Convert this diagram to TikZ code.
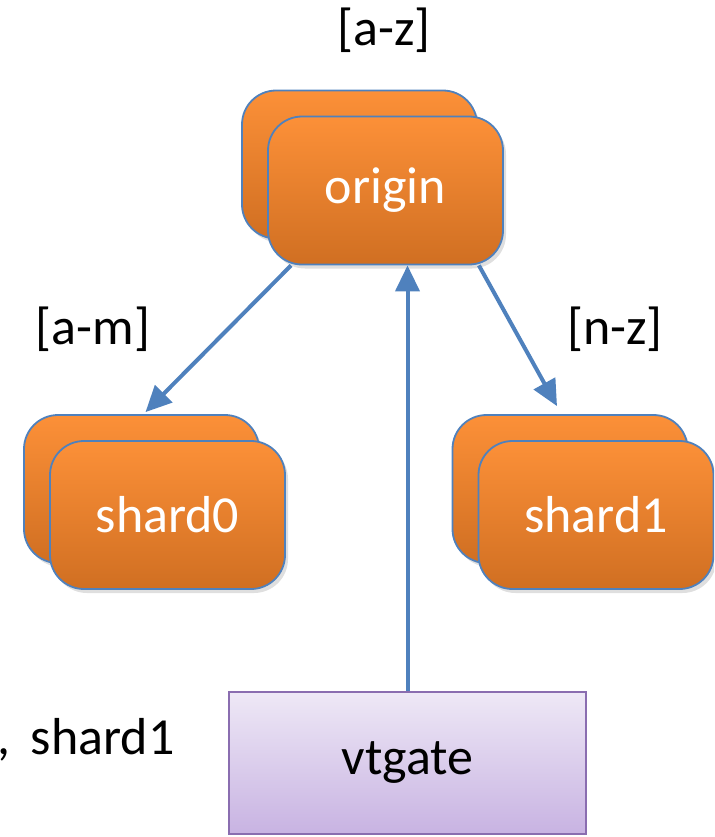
\documentclass[tikz,border=0pt]{standalone}
\usepackage{fontspec}
\setmainfont{Carlito}
\usepackage{xcolor}
\usetikzlibrary{shadows}
\usetikzlibrary{arrows.meta}
\definecolor{linkblue}{HTML}{4F81BD}
\definecolor{orangetop}{HTML}{FC9038}
\definecolor{orangebot}{HTML}{D06F22}
\definecolor{lilactop}{HTML}{EEE8F6}
\definecolor{lilacbot}{HTML}{C8B3E2}
\definecolor{lilacedge}{HTML}{8A6DB0}
\tikzset{tablet/.style={draw=linkblue, line width=0.9pt, rounded corners=17pt,
   top color=orangetop, bottom color=orangebot, text=white,
   minimum width=117.5pt, minimum height=74pt, inner sep=0pt,
   font=\fontsize{26}{30}\selectfont,
   drop shadow={opacity=0.25, shadow xshift=1.5pt, shadow yshift=-2pt}},
 gatebox/.style={draw=lilacedge, line width=0.9pt,
   top color=lilactop, bottom color=lilacbot,
   minimum width=178.5pt, minimum height=71pt, inner sep=0pt,
   font=\fontsize{26}{30}\selectfont},
 keyrange/.style={font=\fontsize{26}{30}\selectfont},
 link/.style={draw=linkblue, line width=2pt, -{Triangle[length=13pt,width=12pt]}},
 }

\begin{document}
\begin{tikzpicture}[x=0.5pt, y=-0.5pt]
        \useasboundingbox (0, 0) rectangle (714, 837);
        \clip (0, 0) rectangle (714, 837);
        \node[keyrange] (rootrange) at (384, 30) {[a-z]};

        \node[tablet] (originb) at (359.5, 164.5) {};
        \node[tablet] (origin) at (385.5, 190.5) {origin};

        \node[tablet] (shard0b) at (141.5, 489) {};
        \node[tablet] (shard0) at (167.5, 515) {shard0};

        \node[tablet] (shard1b) at (570, 489) {};
        \node[tablet] (shard1) at (596, 515) {shard1};

        \node[keyrange] (leftrange) at (93, 329) {[a-m]};
        \node[keyrange] (rightrange) at (615, 329) {[n-z]};

        \node[gatebox] (vtgate) at (407.5, 763) {vtgate};
        \node[keyrange, anchor=east, inner sep=0pt] (shardlist) at (175, 740) {shard0,\, shard1};

        \draw[link] ([xshift=12pt]origin.south west) -- ([xshift=2pt, yshift=1pt]shard0b.north);
        \draw[link] ([xshift=-12.5pt]origin.south east) -- ([xshift=-6.5pt, yshift=4pt]shard1b.north);
        \draw[link] (vtgate.north) -- (vtgate.north |- origin.south);
\end{tikzpicture}
\end{document}
